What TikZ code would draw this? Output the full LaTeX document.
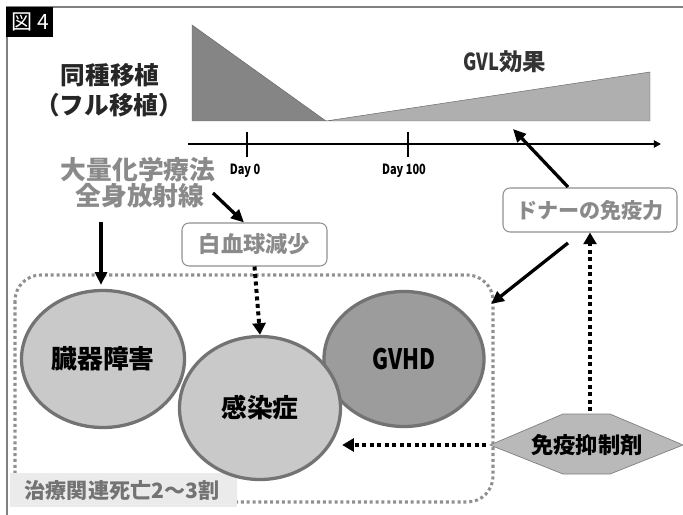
\documentclass[tikz,border=0pt]{standalone}
\usepackage{fontspec}
\setmainfont{Noto Sans CJK JP}
\usetikzlibrary{arrows.meta,shapes.geometric}
\definecolor{tridark}{HTML}{858585}
\definecolor{trilight}{HTML}{AFAFAF}
\definecolor{circlight}{HTML}{C9C9C9}
\definecolor{circdark}{HTML}{9C9C9C}
\definecolor{circedge}{HTML}{737373}
\definecolor{graytext}{HTML}{8A8A8A}
\definecolor{hexfill}{HTML}{B9B9B9}
\definecolor{labelbg}{HTML}{EBEBEB}
\definecolor{boxedge}{HTML}{909090}
\newcommand\fsz[1]{\fontsize{#1}{#1}\selectfont}
\newcommand\cnd[1]{\scalebox{0.78}[1]{#1}}
\tikzset{
  solidarrow/.style={line width=2.8pt,-{Triangle[length=11pt,width=10pt]}},
  dotarrow/.style={line width=3.4pt,dash pattern=on 3.4pt off 3pt,-{Triangle[length=10pt,width=11pt]}},
  roundbox/.style={draw=boxedge,line width=0.9pt,rounded corners=6pt,fill=white,text=graytext,inner sep=0pt},
  bigcirc/.style={ellipse,draw=circedge,line width=2.8pt,inner sep=0pt},
}
\begin{document}
\begin{tikzpicture}[x=0.03cm,y=-0.03cm,font=\bfseries]
\useasboundingbox (0,0) rectangle (683,515);
% frame
\draw[gray,line width=0.9pt] (7,515) -- (7,7) -- (683,7);
\fill[black] (6,7) rectangle (53,37);
\node[text=white,font=\mdseries\fsz{18pt}] (fig) at (30,22) {図 4};
% triangles
\fill[tridark,draw=gray!80!black,line width=0.4pt] (192,25) -- (326,121) -- (192,121) -- cycle;
\fill[trilight,draw=gray!80!black,line width=0.4pt] (326,121) -- (650,72) -- (650,121) -- cycle;
\node[text=black!80,font=\bfseries\fsz{20pt}] (gvl) at (505,62) {\cnd{GVL}効果};
\node[text=black!85,font=\bfseries\fsz{21pt}] (allo1) at (110,75) {同種移植};
\node[text=black!85,font=\bfseries\fsz{21pt}] (allo2) at (109,105) {（フル移植）};
% axis
\coordinate (axs) at (188,144);
\coordinate (axe) at (661,144);
\draw[line width=1.6pt,-{Triangle[length=6pt,width=6pt]}] (axs) -- (axe);
\draw[line width=1.6pt] (247,132) -- (247,157);
\draw[line width=1.6pt] (408,132) -- (408,157);
\node[font=\bfseries\fsz{12pt}] (d0) at (245,171) {\cnd{Day 0}};
\node[font=\bfseries\fsz{12pt}] (d100) at (404,171) {\cnd{Day 100}};
% chemo text
\node[text=graytext,font=\bfseries\fsz{22pt}] (chemo) at (138,170) {大量化学療法};
\node[text=graytext,font=\bfseries\fsz{22pt}] (tbi) at (140,196) {全身放射線};
% dotted region
\draw[boxedge,line width=2.6pt,dash pattern=on 2.6pt off 2.4pt,rounded corners=22pt] (15,275) rectangle (493,502);
\fill[labelbg] (10,473) rectangle (237,507);
\node[text=black!55,font=\bfseries\fsz{18pt}] (trm) at (122,490) {治療関連死亡2〜3割};
% circles
\node[bigcirc,fill=circlight,minimum width=163*0.03cm,minimum height=137*0.03cm,font=\bfseries\fsz{22pt}] (organ) at (103,359) {臓器障害};
\node[bigcirc,fill=circdark,minimum width=160*0.03cm,minimum height=135*0.03cm,font=\bfseries\fsz{24pt}] (gvhd) at (404,359) {\cnd{GVHD}};
\node[bigcirc,fill=circlight,minimum width=161*0.03cm,minimum height=143*0.03cm,font=\bfseries\fsz{22pt}] (infect) at (260,408) {感染症};
% boxes
\node[roundbox,minimum width=145*0.03cm,minimum height=43*0.03cm,font=\bfseries\fsz{19pt}] (wbc) at (254.5,244.5) {白血球減少};
\node[roundbox,minimum width=174*0.03cm,minimum height=44*0.03cm,font=\bfseries\fsz{18pt}] (donor) at (590,210) {ドナーの免疫力};
% hexagon
\draw[fill=hexfill,draw=gray,line width=0.6pt] (490,445) -- (563,414) -- (610,414) -- (683,445) -- (610,474) -- (563,474) -- cycle;
\node[font=\bfseries\fsz{19pt}] (imm) at (587,445) {免疫抑制剤};
\coordinate (hexleft) at (486,445);
\coordinate (hextop) at (590,411);
% arrows
\coordinate (tbiend) at (213,193);
\coordinate (orgtop) at (101,222);
\coordinate (orgtip) at (101,285);
\coordinate (gvlpt) at (513,129);
\coordinate (donorbot) at (568,243);
\coordinate (regioncorner) at (491,304);
\coordinate (donortop) at (568,187);
\draw[solidarrow] (tbiend) -- (wbc.north -| 244,0);
\draw[solidarrow] (orgtop) -- (orgtip);
\draw[solidarrow] (donortop) -- (gvlpt);
\draw[solidarrow] (donorbot) -- (regioncorner);
\draw[dotarrow] (wbc.south) -- (infect.north);
\draw[dotarrow] (hexleft) -- (infect.east |- hexleft);
\draw[dotarrow] (hextop) -- (donor.south -| hextop);
\end{tikzpicture}
\end{document}
